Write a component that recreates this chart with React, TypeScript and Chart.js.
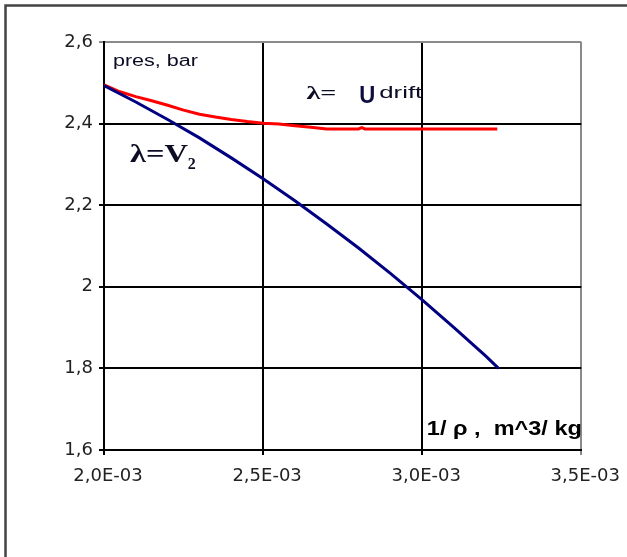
import React, { useEffect, useRef } from "react";
import { Chart, registerables } from "chart.js";

Chart.register(...registerables);

// ---- data ----
const xTickLabels = ["2,0E-03", "2,5E-03", "3,0E-03", "3,5E-03"];
const yTickLabels = ["1,6", "1,8", "2", "2,2", "2,4", "2,6"];

// λ = V2  (navy curve)
const blueX = [0.002, 0.0021, 0.0022, 0.0023, 0.0024, 0.0025, 0.0026, 0.0027, 0.0028, 0.0029, 0.003, 0.0031, 0.0032, 0.00324];
const blueY = [2.493, 2.453, 2.41, 2.365, 2.316, 2.265, 2.211, 2.154, 2.095, 2.033, 1.968, 1.9, 1.83, 1.8];

// λ = U drift  (red curve)
const redX = [0.002, 0.00205, 0.0021, 0.00215, 0.0022, 0.00225, 0.0023, 0.00235, 0.0024, 0.00245, 0.0025, 0.00255, 0.0026, 0.00265, 0.0027, 0.0028, 0.00281, 0.00282, 0.003, 0.003236];
const redY = [2.495, 2.478, 2.466, 2.456, 2.445, 2.433, 2.423, 2.416, 2.41, 2.405, 2.401, 2.399, 2.395, 2.391, 2.387, 2.387, 2.39, 2.387, 2.387, 2.387];

// ---- text annotations (data coordinates of the text's left/baseline) ----
type Ann = { text: string; x: number; y: number; font: string; width: number; color: string };
const annotations: Ann[] = [
  { text: "pres, bar", x: 0.002028, y: 2.541, font: "16px 'Liberation Sans'", width: 85, color: "#0c0c24" },
  { text: "λ=", x: 0.002636, y: 2.4598, font: "bold 19px 'Liberation Serif'", width: 30, color: "#0c0c24" },
  { text: "U", x: 0.002802, y: 2.45, font: "bold 24px 'Liberation Sans'", width: 16, color: "#0c0c40" },
  { text: "drift", x: 0.002865, y: 2.4623, font: "17px 'Liberation Sans'", width: 43, color: "#0c0c24" },
  { text: "λ=V", x: 0.0020814, y: 2.3059, font: "bold 25px 'Liberation Serif'", width: 58, color: "#0c0c24" },
  { text: "2", x: 0.002263, y: 2.2887, font: "bold 17px 'Liberation Serif'", width: 8, color: "#0c0c24" },
  { text: "1/ ρ ,  m^3/ kg", x: 0.0030146, y: 1.6368, font: "bold 21px 'Liberation Sans'", width: 155, color: "#000000" },
];

const toPts = (xs: number[], ys: number[]) => xs.map((x, i) => ({ x, y: ys[i] }));

export default function App() {
  const ref = useRef<HTMLCanvasElement | null>(null);

  useEffect(() => {
    if (!ref.current) return;

    const framePlugin = {
      id: "frame",
      beforeDraw(chart: any) {
        const ctx = chart.ctx;
        ctx.save();
        ctx.fillStyle = "#ffffff";
        ctx.fillRect(0, 0, chart.width, chart.height);
        ctx.strokeStyle = "#444444";
        ctx.lineWidth = 2.5;
        ctx.beginPath();
        ctx.moveTo(5.5, chart.height + 5);
        ctx.lineTo(5.5, 5.5);
        ctx.lineTo(chart.width + 5, 5.5);
        ctx.stroke();
        ctx.restore();
      },
    };

    const textPlugin = {
      id: "texts",
      afterDraw(chart: any) {
        const ctx = chart.ctx;
        const xs = chart.scales.x;
        const ys = chart.scales.y;
        annotations.forEach((a) => {
          const px = xs.getPixelForValue(a.x);
          const py = ys.getPixelForValue(a.y);
          ctx.save();
          ctx.font = a.font;
          ctx.fillStyle = a.color;
          ctx.textAlign = "left";
          ctx.textBaseline = "alphabetic";
          const w = ctx.measureText(a.text).width || 1;
          ctx.translate(px, py);
          ctx.scale(a.width / w, 1);
          ctx.fillText(a.text, 0, 0);
          ctx.restore();
        });
      },
    };

    const gridColor = (count: number) => (c: any) => (c.index === count - 1 ? "#8a8a8a" : "#000000");

    const chart = new Chart(ref.current, {
      type: "scatter",
      data: {
        datasets: [
          {
            label: "λ=V2",
            data: toPts(blueX, blueY),
            showLine: true,
            borderColor: "#000080",
            backgroundColor: "#000080",
            borderWidth: 3,
            pointRadius: 0,
            tension: 0,
          },
          {
            label: "λ=U drift",
            data: toPts(redX, redY),
            showLine: true,
            borderColor: "#ff0000",
            backgroundColor: "#ff0000",
            borderWidth: 3,
            pointRadius: 0,
            tension: 0,
          },
        ],
      },
      options: {
        animation: false,
        responsive: false,
        devicePixelRatio: 1,
        layout: { padding: { left: 0, top: 42, right: 44, bottom: 57 } },
        plugins: { legend: { display: false }, tooltip: { enabled: false }, title: { display: false } },
        scales: {
          x: {
            type: "linear",
            min: 0.002,
            max: 0.0035,
            z: 1,
            afterFit: (s: any) => {
              s.height = 50;
            },
            afterBuildTicks: (s: any) => {
              s.ticks = xTickLabels.map((_, i) => ({ value: 0.002 + i * 0.0005 }));
            },
            ticks: {
              callback: (_v: any, i: number) => xTickLabels[i],
              font: { family: "'DejaVu Sans'", size: 18 },
              color: "#222222",
              padding: 11,
              labelOffset: 4,
              maxRotation: 0,
              autoSkip: false,
            },
            grid: { color: gridColor(xTickLabels.length), lineWidth: 2, tickLength: 5 },
            border: { color: "#000000", width: 2 },
          },
          y: {
            type: "linear",
            min: 1.6,
            max: 2.6,
            z: 1,
            afterFit: (s: any) => {
              s.width = 104;
            },
            afterBuildTicks: (s: any) => {
              s.ticks = yTickLabels.map((_, i) => ({ value: 1.6 + i * 0.2 }));
            },
            ticks: {
              callback: (_v: any, i: number) => yTickLabels[i],
              font: { family: "'DejaVu Sans'", size: 18 },
              color: "#222222",
              padding: 6,
              autoSkip: false,
            },
            grid: { color: gridColor(yTickLabels.length), lineWidth: 2, tickLength: 5 },
            border: { color: "#000000", width: 2 },
          },
        },
      },
      plugins: [framePlugin, textPlugin],
    });

    return () => chart.destroy();
  }, []);

  return (
    <div style={{ position: "fixed", left: 0, top: 0, width: 627, height: 557, background: "#fff" }}>
      <canvas ref={ref} width={627} height={557} style={{ display: "block" }} />
    </div>
  );
}
